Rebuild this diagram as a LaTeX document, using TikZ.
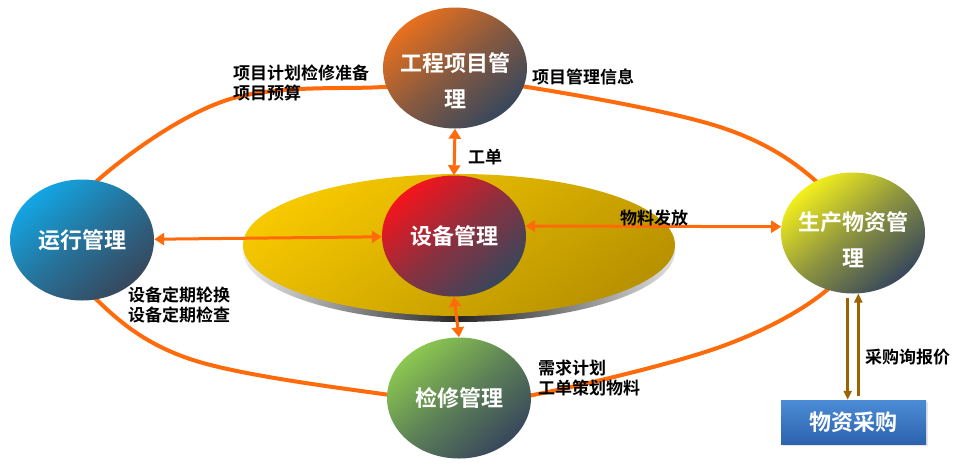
\documentclass[tikz,border=0pt]{standalone}
\usepackage{fontspec}
\setmainfont{Noto Sans CJK SC}[BoldFont={Noto Sans CJK SC Bold}]
\usetikzlibrary{shapes.geometric,arrows.meta,shadows}
\definecolor{ringc}{HTML}{FF6A0A}
\definecolor{slate}{HTML}{37475C}
\definecolor{cOr}{HTML}{E8701E}
\definecolor{cBl}{HTML}{12A6E4}
\definecolor{cRd}{HTML}{F5141C}
\definecolor{cYe}{HTML}{F4F01C}
\definecolor{cGr}{HTML}{8CC850}
\definecolor{gold1}{HTML}{F6C800}
\definecolor{gold2}{HTML}{B89200}
\definecolor{brn}{HTML}{9C6400}
\definecolor{bx1}{HTML}{4C8CD6}
\definecolor{bx2}{HTML}{2C62AE}
\tikzset{
  bubble/.style={ellipse, minimum width=144pt, minimum height=121pt, inner sep=0pt,
    text=white, font=\bfseries\fontsize{22}{36}\selectfont, align=center,
    top color=#1, bottom color=slate, middle color=#1!45!slate, shading angle=40},
  btext/.style={text=white, font=\bfseries\fontsize{22}{36}\selectfont, align=center},
  lbl/.style={font=\bfseries\fontsize{17}{20}\selectfont, align=left, anchor=west, inner sep=0pt},
  ringline/.style={draw=ringc, line width=4pt},
  oarrow/.style={draw=ringc, line width=3pt, {Triangle[width=12pt,length=10pt]}-{Triangle[width=12pt,length=10pt]}},
  barrow/.style={draw=brn, line width=2.5pt, -{Triangle[width=8pt,length=9pt]}}
}
\begin{document}
\begin{tikzpicture}[x=1pt,y=-1pt]
\useasboundingbox (0,0) rectangle (965,464);
% ring
\draw[ringline] plot[smooth cycle, tension=0.6] coordinates {
 (455,85) (527,87) (720,127) (817,182) (848,240) (827,290) (720,347) (533,395)
 (460,398) (390,395) (193,360) (97,300) (68,240) (98,180) (227,100) (383,87)};
% disk
\shade[left color=gray!15, right color=gray!25, middle color=black!85]
  (459,251) ellipse [x radius=216, y radius=71];
\shade[top color=gold1, bottom color=gold2, shading angle=35]
  (459,245) ellipse [x radius=216, y radius=71];
% bubbles
\node[bubble=cOr] (gc) at (455,68) {};
\node[btext] (gct) at (455,81) {工程项目管\\理};
\node[bubble=cBl] (yx) at (82,240) {\raisebox{-2pt}{运行管理}};
\node[bubble=cRd] (sb) at (454,236) {\raisebox{-3pt}{设备管理}};
\node[bubble=cYe] (sc) at (853,233) {};
\node[btext] (sct) at (853,240) {生产物资管\\理};
\node[bubble=cGr] (jx) at (459,398) {\raisebox{-4pt}{检修管理}};
% box
\node[minimum width=145pt, minimum height=44pt, inner sep=0pt,
  top color=bx1, bottom color=bx2, text=white,
  font=\bfseries\fontsize{22}{26}\selectfont,
  drop shadow={opacity=0.2, shadow xshift=1.5pt, shadow yshift=-1.5pt}]
  (cg) at (853.5,422) {\raisebox{-4pt}{物资采购}};
% arrows
\draw[oarrow] (gc.south) -- (sb.north);
\draw[oarrow] (sb.south) -- (jx.north);
\draw[oarrow] (yx) -- (sb);
\draw[oarrow] (sb.8) -- (sc.175);
\draw[barrow, shorten <=4pt] (sc.265) -- (sc.265 |- cg.north);
\draw[barrow, shorten <=4pt] (sc.275 |- cg.north) -- (sc.275);
% labels
\node[lbl] (l1) at (233,83) {项目计划检修准备\\项目预算};
\node[lbl] (l2) at (532,77) {项目管理信息};
\node[lbl] (l3) at (468,157) {工单};
\node[lbl] (l4) at (620,218) {物料发放};
\node[lbl] (l5) at (128,305) {设备定期轮换\\设备定期检查};
\node[lbl] (l6) at (538,378) {需求计划\\工单策划物料};
\node[lbl] (l7) at (865,357) {采购询报价};
\end{tikzpicture}
\end{document}
